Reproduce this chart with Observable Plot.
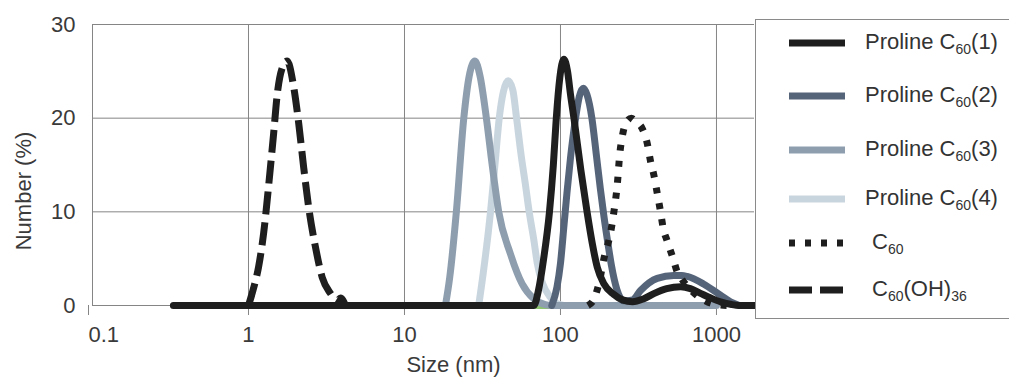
<!DOCTYPE html>
<html><head><meta charset="utf-8">
<script src="https://cdn.jsdelivr.net/npm/d3@7"></script>
<script src="https://cdn.jsdelivr.net/npm/@observablehq/plot@0.6"></script>
<style>
body{margin:0;background:#fff;}
#wrap{position:relative;width:1009px;height:377px;overflow:hidden;font-family:"Liberation Sans",Arial,sans-serif;background:#fff;}
#legend{position:absolute;left:755px;top:19px;width:300px;height:300px;border:1px solid #8a8a8a;background:#fff;box-sizing:border-box;}
.item{position:absolute;left:0;height:0;}
.item svg{position:absolute;left:33px;top:-5px;overflow:visible;}
.item span{position:absolute;top:0;font-size:22px;color:#333;white-space:nowrap;transform:translateY(-55%);line-height:1;}
sub{font-size:14px;vertical-align:-5px;line-height:0;}
</style></head>
<body>
<div id="wrap"><div id="chart"></div><div id="legend"></div></div>
<script>
// ---- data (size in nm, number in %) ----
const xTicks = [0.1, 1, 10, 100, 1000];
const yTicks = [0, 10, 20, 30];

const prolineC60_1 = [[0.33,0],[67.5,0],[72,1.5],[78,5],[85,10],[90,15],[94,20],[99,24.3],[105,26.3],[111,25],[116,22.5],[122,20],[135,14.5],[148,10],[160,6.6],[172,4.1],[190,2.3],[219,1.2],[250,0.6],[290,0.4],[340,0.7],[400,1.3],[480,1.8],[590,2.0],[680,1.8],[790,1.3],[920,0.8],[1060,0.4],[1250,0.1],[1400,0],[1750,0]];
const prolineC60_2 = [[88,0],[95,2],[100,4.5],[105,8.3],[110,12],[116,15.8],[125,20],[132,22.3],[140,23.2],[148,22.5],[159,20],[170,16],[180,12.5],[190,9.5],[202,6.5],[212,4.3],[230,1.7],[254,0.5],[290,0.6],[326,1.6],[417,2.9],[533,3.2],[600,3.2],[649,3.1],[826,2.3],[1061,1.1],[1230,0.4],[1400,0]];
const prolineC60_3 = [[18.3,0],[19.5,3],[21.5,10],[24,20],[26,24.5],[28.3,26.1],[30.5,24.5],[33.5,20],[36.5,15],[40.2,10],[47.8,5.5],[56.8,2.3],[67.5,0.7],[80,0.1],[90,0],[1000,0]];
const prolineC60_4 = [[29.9,0],[32,3.5],[35.6,10],[38,15],[40.5,20],[43,22.8],[46.2,24],[49.5,23],[52.3,20],[56,16],[59.5,13],[63,10],[67.5,7],[71,4.5],[77,2.3],[85,1],[95,0.2],[105,0]];
const c60 = [[150,0],[165,0.8],[176,2.3],[191,5.2],[209,7.7],[220,10],[231,12.8],[240,16.2],[250,18.2],[265,19.6],[285,20],[305,19.6],[334,18.9],[360,17.3],[380,15.2],[396,14],[417,12],[438,10],[455,8.3],[483,6.9],[525,5.1],[560,3.6],[600,2.8],[700,1.5],[850,0.5],[1000,0.1],[1200,0]];
const c60OH36 = [[1.0,0],[1.08,1.9],[1.16,4.1],[1.25,7.7],[1.35,13],[1.45,18.4],[1.53,22.6],[1.64,25.3],[1.77,26.1],[1.95,23.3],[2.10,19.4],[2.26,14.7],[2.43,10.5],[2.69,6.2],[2.97,3.0],[3.35,1.3],[3.7,0.5],[3.89,0.8],[4.18,0]];
const hiddenBaseline = [[60,0],[100,0]];

const seriesNames = ["Proline C60(1)","Proline C60(2)","Proline C60(3)","Proline C60(4)","C60","C60(OH)36"];

// ---- styles ----
const styles = {
  "Proline C60(1)": {stroke:"#1e1e1e", dash:null},
  "Proline C60(2)": {stroke:"#56647a", dash:null},
  "Proline C60(3)": {stroke:"#8e9eaf", dash:null},
  "Proline C60(4)": {stroke:"#c9d5de", dash:null},
  "C60": {stroke:"#1e1e1e", dash:"6,10"},
  "C60(OH)36": {stroke:"#1e1e1e", dash:"23,8"}
};
const dataFor = {
  "Proline C60(1)": prolineC60_1, "Proline C60(2)": prolineC60_2,
  "Proline C60(3)": prolineC60_3, "Proline C60(4)": prolineC60_4,
  "C60": c60, "C60(OH)36": c60OH36
};
const drawOrder = ["Proline C60(4)","Proline C60(3)","C60(OH)36","Proline C60(2)","C60","Proline C60(1)"];

const gridColor = "#858585";
const textColor = "#3a3a3a";
const sw = 7;

const lineMark = (data, st) => Plot.line(data, {
  x: d => d[0], y: d => d[1], stroke: st.stroke, strokeWidth: sw,
  strokeDasharray: st.dash || undefined,
  strokeLinecap: st.dash ? "butt" : "round", strokeLinejoin: "round",
  curve: "monotone-x"
});

const chart = Plot.plot({
  width: 1009, height: 377,
  marginLeft: 92, marginRight: 255, marginTop: 24, marginBottom: 72,
  style: {fontFamily: "'Liberation Sans', Arial, sans-serif", background: "#fff", overflow: "visible"},
  x: {type: "log", domain: [0.1, 1753]},
  y: {domain: [0, 30]},
  marks: [
    Plot.gridX({ticks: xTicks.slice(1), stroke: gridColor, strokeOpacity: 1}),
    Plot.gridY({ticks: yTicks, stroke: gridColor, strokeOpacity: 1}),
    Plot.ruleX([0.1], {stroke: gridColor}),
    Plot.axisX({ticks: xTicks.slice(1), tickSize: 10, tickPadding: 11, fontSize: 22, label: null,
      stroke: gridColor, fill: textColor, tickFormat: d => String(d)}),
    Plot.axisX({ticks: [0.1], tickSize: 10, tickPadding: 11, fontSize: 22, label: null,
      stroke: gridColor, fill: textColor, textAnchor: "start", dx: -4, tickFormat: d => String(d)}),
    Plot.axisY({ticks: yTicks, tickSize: 0, tickPadding: 17, fontSize: 22, label: null,
      fill: textColor, tickFormat: d => String(d)}),
    Plot.text(["Size (nm)"], {frameAnchor: "bottom", textAnchor: "middle", lineAnchor: "middle",
      dx: 30, dy: 59, fontSize: 22, fill: textColor}),
    Plot.text(["Number (%)"], {frameAnchor: "left", textAnchor: "middle", lineAnchor: "middle",
      dx: -69, dy: 26, rotate: -90, fontSize: 22, fill: textColor}),
    lineMark(hiddenBaseline, {stroke: "#8dc26f", dash: null}),
    ...drawOrder.map(n => lineMark(dataFor[n], styles[n]))
  ]
});
document.getElementById("chart").appendChild(chart);

// ---- legend ----
const legendRowsY = [43, 96, 150, 199, 243, 290];
const legendHTML = {
  "Proline C60(1)": "Proline C<sub>60</sub>(1)",
  "Proline C60(2)": "Proline C<sub>60</sub>(2)",
  "Proline C60(3)": "Proline C<sub>60</sub>(3)",
  "Proline C60(4)": "Proline C<sub>60</sub>(4)",
  "C60": "C<sub>60</sub>",
  "C60(OH)36": "C<sub>60</sub>(OH)<sub>36</sub>"
};
const legend = document.getElementById("legend");
seriesNames.forEach((n, i) => {
  const st = styles[n];
  const item = document.createElement("div");
  item.className = "item";
  item.style.top = (legendRowsY[i] - 20) + "px";
  const textLeft = n.startsWith("Proline") ? 109 : 116;
  item.innerHTML = `<svg width="58" height="10"><line x1="0" x2="56" y1="5" y2="5" stroke="${st.stroke}" stroke-width="7" ${st.dash ? `stroke-dasharray="${st.dash}"` : ""}/></svg><span style="left:${textLeft}px">${legendHTML[n]}</span>`;
  legend.appendChild(item);
});
</script>
</body></html>
